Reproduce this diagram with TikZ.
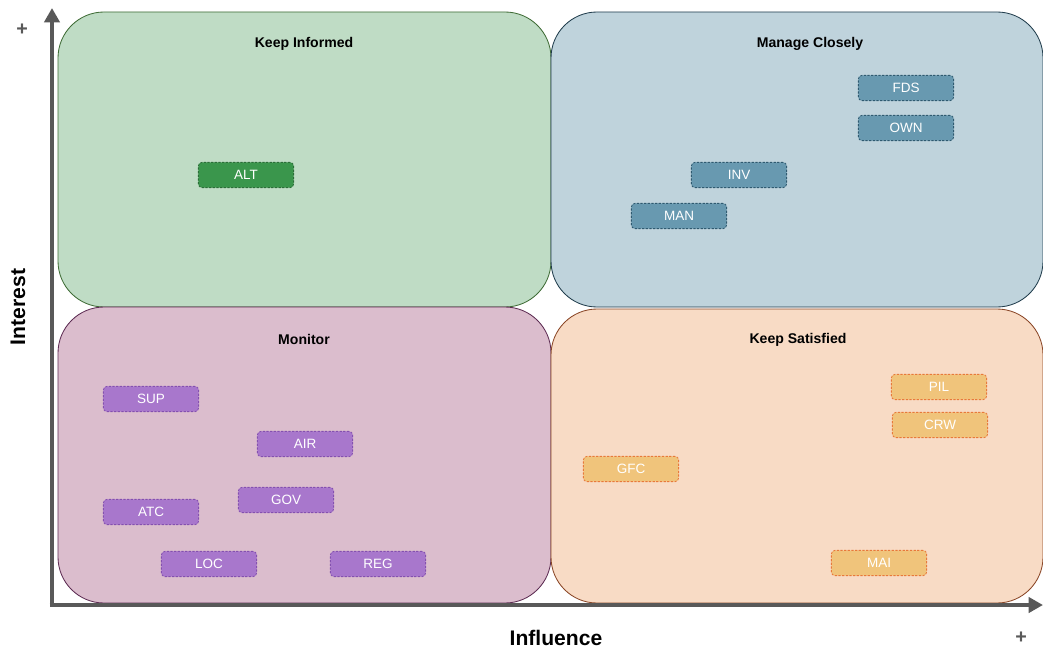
\documentclass[tikz,border=0pt]{standalone}
\usepackage{fontspec}
\setmainfont{Liberation Sans}
\usetikzlibrary{arrows.meta}

\definecolor{informFill}{HTML}{BFDCC5}
\definecolor{informLine}{HTML}{3E6B35}
\definecolor{closeFill}{HTML}{BFD3DC}
\definecolor{closeLine}{HTML}{203C4C}
\definecolor{monitorFill}{HTML}{DBBDCD}
\definecolor{monitorLine}{HTML}{5C2B52}
\definecolor{satisfyFill}{HTML}{F8DBC5}
\definecolor{satisfyLine}{HTML}{8A4626}
\definecolor{altFill}{HTML}{3A964C}
\definecolor{altLine}{HTML}{2A6E37}
\definecolor{keyFill}{HTML}{6899B0}
\definecolor{keyLine}{HTML}{2F5A70}
\definecolor{monFill}{HTML}{A877CC}
\definecolor{monLine}{HTML}{8450B0}
\definecolor{satFill}{HTML}{F0C47B}
\definecolor{satLine}{HTML}{E8793A}
\definecolor{axisGray}{HTML}{595959}

\begin{document}
\begin{tikzpicture}[
				x=0.025cm, y=-0.025cm,
				quadrant/.style={
					draw,
					line width=0.6pt,
					rounded corners=1.15cm
				},
				title/.style={
					font=\fontsize{10}{12}\selectfont\bfseries
				},
				stakeholder/.style={
					draw,
					rectangle,
					rounded corners=2.5pt,
					line width=0.6pt,
					dash pattern=on 1.6pt off 1pt,
					minimum width=2.38cm,
					minimum height=0.63cm,
					text=white,
					font=\fontsize{9.6}{11}\selectfont
				},
				axislabel/.style={font=\fontsize{15}{18}\selectfont\bfseries},
				sign/.style={font=\fontsize{14}{16}\selectfont\bfseries, text=axisGray},
				axis/.style={line width=3.5pt, draw=axisGray,
					-{Triangle[length=0.36cm,width=0.38cm]}}
				]
				\useasboundingbox (0,0) rectangle (1043,650);
				
				% quadrants
				\draw[quadrant, fill=informFill, draw=informLine] (58,12) rectangle (551,307);
				\draw[quadrant, fill=closeFill, draw=closeLine] (551,12) rectangle (1043,307);
				\draw[quadrant, fill=monitorFill, draw=monitorLine] (58,307) rectangle (551,603);
				\draw[quadrant, fill=satisfyFill, draw=satisfyLine] (551,309) rectangle (1043,603);
				
				\node[title] (informed) at (304,44) {Keep Informed};
				\node[title] (closely) at (810,44) {Manage Closely};
				\node[title] (monitor) at (304,339) {Monitor};
				\node[title] (satisfied) at (798,340) {Keep Satisfied};
				
				% axes
				\coordinate (origin) at (52,605);
				\coordinate (ytip) at (52,8);
				\coordinate (xtip) at (1043,605);
				\draw[axis] (origin) -- (ytip);
				\draw[axis] ([xshift=-1.75pt]origin) -- (xtip);
				
				\node[axislabel, rotate=90] (interest) at (18,307) {Interest};
				\node[axislabel] (influence) at (556,638) {Influence};
				\node[sign] (yplus) at (22,30) {+};
				\node[sign] (xplus) at (1021,638) {+};
				
				% stakeholders
				\node[stakeholder, fill=altFill, draw=altLine] (alt) at (246,175) {ALT};
				
				\node[stakeholder, fill=keyFill, draw=keyLine] (fds) at (906,88) {FDS};
				\node[stakeholder, fill=keyFill, draw=keyLine] (own) at (906,128) {OWN};
				\node[stakeholder, fill=keyFill, draw=keyLine] (inv) at (739,175) {INV};
				\node[stakeholder, fill=keyFill, draw=keyLine] (man) at (679,216) {MAN};
				
				\node[stakeholder, fill=monFill, draw=monLine] (sup) at (151,399) {SUP};
				\node[stakeholder, fill=monFill, draw=monLine] (air) at (305,444) {AIR};
				\node[stakeholder, fill=monFill, draw=monLine] (gov) at (286,500) {GOV};
				\node[stakeholder, fill=monFill, draw=monLine] (atc) at (151,512) {ATC};
				\node[stakeholder, fill=monFill, draw=monLine] (loc) at (209,564) {LOC};
				\node[stakeholder, fill=monFill, draw=monLine] (reg) at (378,564) {REG};
				
				\node[stakeholder, fill=satFill, draw=satLine] (pil) at (939,387) {PIL};
				\node[stakeholder, fill=satFill, draw=satLine] (crw) at (940,425) {CRW};
				\node[stakeholder, fill=satFill, draw=satLine] (gfc) at (631,469) {GFC};
				\node[stakeholder, fill=satFill, draw=satLine] (mai) at (879,563) {MAI};
			\end{tikzpicture}
\end{document}
